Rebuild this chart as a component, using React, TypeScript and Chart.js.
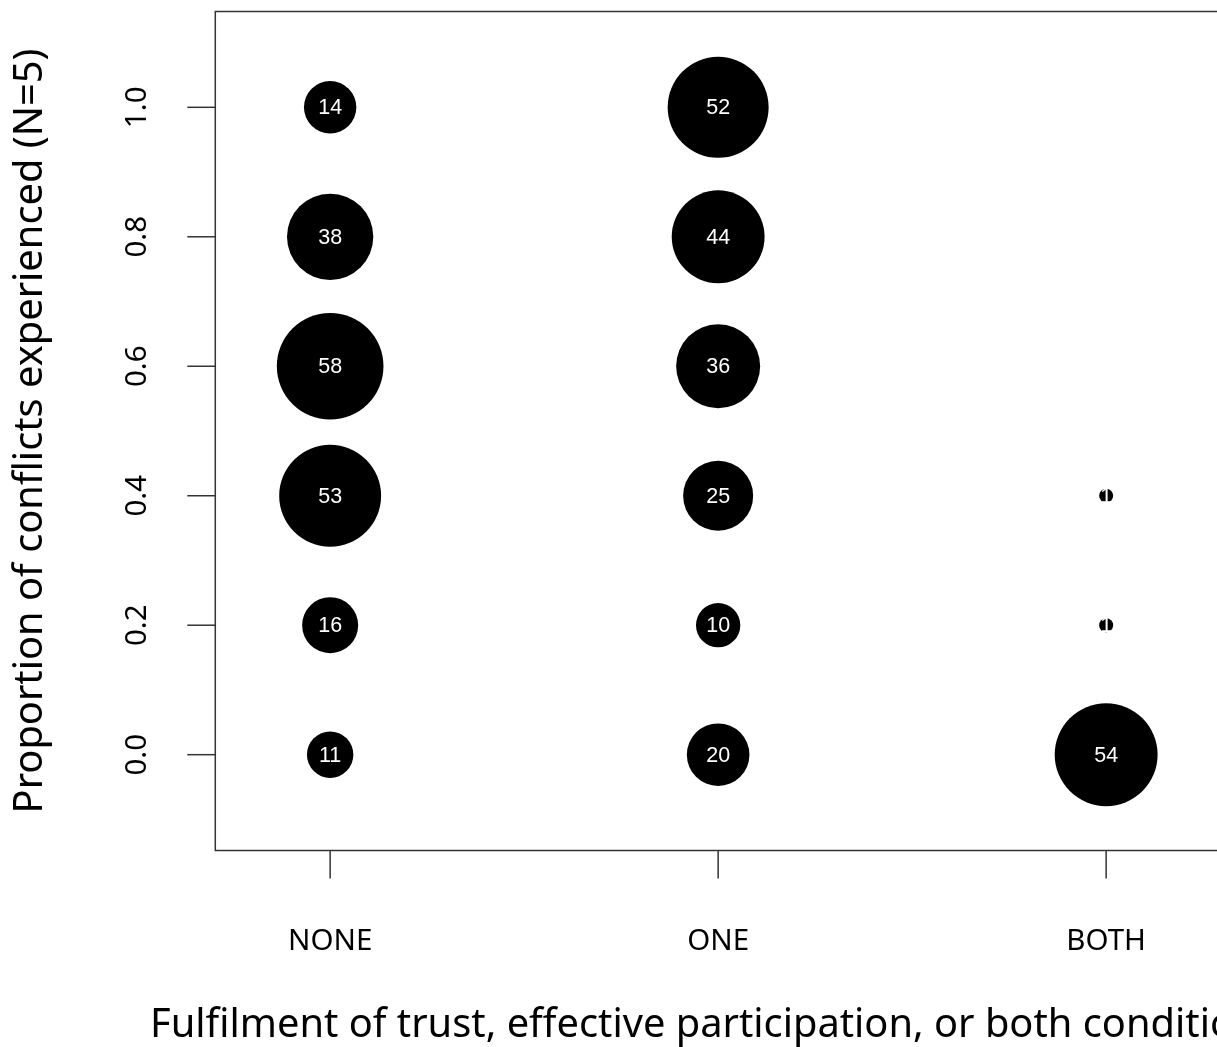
import React, { useEffect, useRef } from "react";
import { Chart, registerables } from "chart.js";

Chart.register(...registerables);

const categories = ["NONE", "ONE", "BOTH"];
const proportions = [0, 0.2, 0.4, 0.6, 0.8, 1.0];
const yTickLabels = ["0.0", "0.2", "0.4", "0.6", "0.8", "1.0"];
const noneCounts = [11, 16, 53, 58, 38, 14];
const oneCounts = [20, 10, 25, 36, 44, 52];
const bothCounts = [54, 1, 1, 0, 0, 0];
const xTitle = "Fulfilment of trust, effective participation, or both conditions";
const yTitle = "Proportion of conflicts experienced (N=5)";

const RADIUS_SCALE = 7;
const LINE = "#333333";
const AXIS_FONT = '"Noto Sans", sans-serif';

function toPoints(counts: number[], xIndex: number) {
  const pts: { x: number; y: number; r: number; count: number }[] = [];
  counts.forEach((c, i) => {
    if (c > 0) {
      pts.push({ x: xIndex + 1, y: proportions[i], r: RADIUS_SCALE * Math.sqrt(c), count: c });
    }
  });
  return pts;
}

const decorPlugin = {
  id: "decor",
  afterDatasetsDraw(chart: any) {
    const ctx = chart.ctx;
    ctx.save();
    ctx.fillStyle = "#ffffff";
    ctx.font = '21.5px "Liberation Sans", Arial, sans-serif';
    ctx.textAlign = "center";
    ctx.textBaseline = "middle";
    chart.data.datasets.forEach((ds: any, di: number) => {
      const meta = chart.getDatasetMeta(di);
      meta.data.forEach((el: any, i: number) => {
        ctx.fillText(String(ds.data[i].count), el.x, el.y + 1);
      });
    });
    ctx.restore();
  },
  afterDraw(chart: any) {
    const ctx = chart.ctx;
    const { left, right, top, bottom } = chart.chartArea;
    const xs = chart.scales.x;
    const ys = chart.scales.y;
    ctx.save();
    ctx.strokeStyle = LINE;
    ctx.lineWidth = 1.5;
    ctx.strokeRect(left, top, right - left, bottom - top);

    ctx.fillStyle = "#000000";
    ctx.font = "29.5px " + AXIS_FONT;
    ctx.textAlign = "center";
    ctx.textBaseline = "middle";
    categories.forEach((c, i) => {
      const px = xs.getPixelForValue(i + 1);
      ctx.beginPath();
      ctx.moveTo(px, bottom);
      ctx.lineTo(px, bottom + 28);
      ctx.stroke();
      ctx.fillText(c, px, bottom + 91);
    });
    proportions.forEach((v, i) => {
      const py = ys.getPixelForValue(v);
      ctx.beginPath();
      ctx.moveTo(left - 28, py);
      ctx.lineTo(left, py);
      ctx.stroke();
      ctx.save();
      ctx.translate(left - 78, py);
      ctx.rotate(-Math.PI / 2);
      ctx.fillText(yTickLabels[i], 0, 0);
      ctx.restore();
    });

    ctx.font = "39.8px " + AXIS_FONT;
    ctx.textAlign = "left";
    ctx.textBaseline = "alphabetic";
    ctx.fillText(xTitle, 150, 1037);

    ctx.save();
    ctx.translate(42, (top + bottom) / 2);
    ctx.rotate(-Math.PI / 2);
    ctx.textAlign = "center";
    ctx.fillText(yTitle, 0, 0);
    ctx.restore();
    ctx.restore();
  },
};

export default function App() {
  const ref = useRef<HTMLCanvasElement | null>(null);
  useEffect(() => {
    const canvas = ref.current;
    if (!canvas) return;
    const W = 1260;
    const chart = new Chart(canvas, {
      type: "bubble",
      data: {
        datasets: [
          { label: categories[0], data: toPoints(noneCounts, 0) as any, backgroundColor: "#000", borderWidth: 0 },
          { label: categories[1], data: toPoints(oneCounts, 1) as any, backgroundColor: "#000", borderWidth: 0 },
          { label: categories[2], data: toPoints(bothCounts, 2) as any, backgroundColor: "#000", borderWidth: 0 },
        ],
      },
      options: {
        responsive: false,
        animation: false,
        devicePixelRatio: 1,
        layout: { autoPadding: false, padding: { left: 215.3, top: 11.5, right: W - 1221, bottom: 1047 - 850.5 } },
        plugins: { legend: { display: false }, tooltip: { enabled: false } },
        events: [],
        scales: {
          x: { type: "linear", min: 0.704, max: 3.296, display: false },
          y: { type: "linear", min: -0.148, max: 1.148, display: false },
        },
      },
      plugins: [decorPlugin],
    });
    return () => chart.destroy();
  }, []);
  return (
    <div style={{ position: "fixed", left: 0, top: 0, width: 1217, height: 1047, overflow: "hidden", background: "#fff" }}>
      <canvas ref={ref} width={1260} height={1047} style={{ width: 1260, height: 1047, display: "block" }} />
    </div>
  );
}
